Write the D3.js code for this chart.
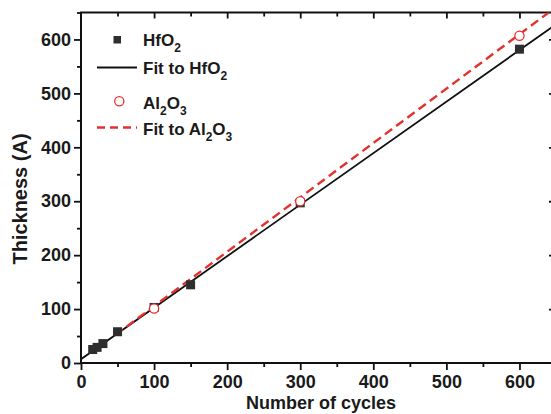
<!DOCTYPE html>
<html><head><meta charset="utf-8">
<script src="https://cdn.jsdelivr.net/npm/d3@7"></script>
<style>html,body{margin:0;padding:0;background:#fff;overflow:hidden}</style>
</head><body>
<script>
// ---- data ----
const hfCycles = [16, 22, 30, 50, 100, 150, 300, 600];
const hfThick  = [25, 29, 36, 58, 103, 145, 297, 582];
const alCycles = [100, 300, 600];
const alThick  = [101, 300, 607];
const hfFitX = [0, 650];
const hfFitY = [7, 628];
const alFitX = [47, 650];
const alFitY = [52, 660];
const xTicks = [0, 100, 200, 300, 400, 500, 600];
const yTicks = [0, 100, 200, 300, 400, 500, 600];
const xTitle = "Number of cycles";
const yTitle = "Thickness (A)";

(function () {
const W = 551, H = 414;
const pL = 81, pR = 556, pT = 12.5, pB = 363;
const x = d3.scaleLinear().domain([0, 650]).range([pL, pR]);
const y = d3.scaleLinear().domain([0, 650]).range([pB, pT]);
const RED = "#e5312d", DARK = "#2e2e2e";
const FONT = "'Liberation Sans', Arial, sans-serif";

const svg = d3.select("body").append("svg").attr("width", W).attr("height", H)
  .style("font-family", FONT);

svg.append("defs").append("clipPath").attr("id", "clip")
  .append("rect").attr("x", pL).attr("y", pT).attr("width", pR - pL).attr("height", pB - pT);

const minorX = d3.range(50, 651, 100);
const minorY = d3.range(50, 651, 100);

function styleAxis(g) {
  g.select(".domain").remove();
  g.selectAll("line").attr("stroke", "#111").attr("stroke-width", 1.8);
  g.selectAll("text").attr("fill", "#1a1a1a").style("font-size", "18px").style("font-weight", "bold").style("font-family", FONT);
}

// bottom axis
svg.append("g").attr("transform", `translate(0,${pB})`)
  .call(d3.axisBottom(x).tickValues(xTicks).tickSize(7).tickPadding(5).tickFormat(d3.format("d")))
  .call(styleAxis);
svg.append("g").attr("transform", `translate(0,${pB})`)
  .call(d3.axisBottom(x).tickValues(minorX).tickSize(4).tickFormat(""))
  .call(styleAxis);
// left axis
svg.append("g").attr("transform", `translate(${pL},0)`)
  .call(d3.axisLeft(y).tickValues(yTicks).tickSize(7).tickPadding(3).tickFormat(d3.format("d")))
  .call(styleAxis);
svg.append("g").attr("transform", `translate(${pL},0)`)
  .call(d3.axisLeft(y).tickValues(minorY).tickSize(4).tickFormat(""))
  .call(styleAxis);
// top axis (ticks pointing inward)
svg.append("g").attr("transform", `translate(0,${pT})`)
  .call(d3.axisBottom(x).tickValues(xTicks.slice(1)).tickSize(6).tickFormat(""))
  .call(styleAxis);
svg.append("g").attr("transform", `translate(0,${pT})`)
  .call(d3.axisBottom(x).tickValues(minorX).tickSize(4).tickFormat(""))
  .call(styleAxis);
// right axis (ticks pointing inward)
svg.append("g").attr("transform", `translate(${pR},0)`)
  .call(d3.axisLeft(y).tickValues(yTicks.slice(1)).tickSize(7).tickFormat(""))
  .call(styleAxis);
svg.append("g").attr("transform", `translate(${pR},0)`)
  .call(d3.axisLeft(y).tickValues(minorY).tickSize(4).tickFormat(""))
  .call(styleAxis);

// frame
svg.append("rect").attr("x", pL).attr("y", pT).attr("width", pR - pL).attr("height", pB - pT)
  .attr("fill", "none").attr("stroke", "#111").attr("stroke-width", 2);

// plot
const plot = svg.append("g").attr("clip-path", "url(#clip)");
const line = d3.line().x(d => x(d[0])).y(d => y(d[1]));
plot.append("path").datum(d3.zip(hfFitX, hfFitY)).attr("d", line)
  .attr("fill", "none").attr("stroke", "#111").attr("stroke-width", 1.8);
plot.append("path").datum(d3.zip(alFitX, alFitY)).attr("d", line)
  .attr("fill", "none").attr("stroke", RED).attr("stroke-width", 2.4).attr("stroke-dasharray", "9,5");

const sq = 9;
plot.selectAll("rect.hf").data(d3.zip(hfCycles, hfThick)).join("rect").attr("class", "hf")
  .attr("x", d => x(d[0]) - sq / 2).attr("y", d => y(d[1]) - sq / 2)
  .attr("width", sq).attr("height", sq).attr("fill", DARK);
plot.selectAll("circle.al").data(d3.zip(alCycles, alThick)).join("circle").attr("class", "al")
  .attr("cx", d => x(d[0])).attr("cy", d => y(d[1])).attr("r", 4.6)
  .attr("fill", "#fff").attr("stroke", RED).attr("stroke-width", 1.3);

// legend
const lg = svg.append("g").style("font-size", "17px").style("font-weight", "bold").attr("fill", "#1a1a1a");
function label(tx, ty, parts) {
  const t = lg.append("text").attr("x", tx).attr("y", ty);
  parts.forEach(p => {
    if (p[1]) t.append("tspan").attr("dy", 6).style("font-size", "12px").text(p[0]);
    else t.append("tspan").attr("dy", p[2] ? -6 : 0).text(p[0]);
  });
}
lg.append("rect").attr("x", 113.5).attr("y", 36).attr("width", 7.5).attr("height", 7.5).attr("fill", DARK);
label(143, 45.5, [["HfO"], ["2", true]]);
lg.append("line").attr("x1", 97).attr("x2", 137).attr("y1", 67.5).attr("y2", 67.5).attr("stroke", "#111").attr("stroke-width", 1.8);
label(143, 73.5, [["Fit to HfO"], ["2", true]]);
lg.append("circle").attr("cx", 119.3).attr("cy", 101.3).attr("r", 4.6).attr("fill", "#fff").attr("stroke", RED).attr("stroke-width", 1.3);
label(143, 108.5, [["Al"], ["2", true], ["O", false, true], ["3", true]]);
lg.append("line").attr("x1", 97).attr("x2", 137).attr("y1", 127.5).attr("y2", 127.5).attr("stroke", RED).attr("stroke-width", 2.4).attr("stroke-dasharray", "8,5");
label(143, 135, [["Fit to Al"], ["2", true], ["O", false, true], ["3", true]]);

// titles
svg.append("text").attr("x", 321).attr("y", 409).attr("text-anchor", "middle")
  .style("font-size", "18px").style("font-weight", "bold").attr("fill", "#1a1a1a").text(xTitle);
svg.append("text").attr("transform", "translate(27,199) rotate(-90)").attr("text-anchor", "middle")
  .style("font-size", "20px").style("font-weight", "bold").attr("fill", "#1a1a1a").text(yTitle);
})();
</script>
</body></html>
